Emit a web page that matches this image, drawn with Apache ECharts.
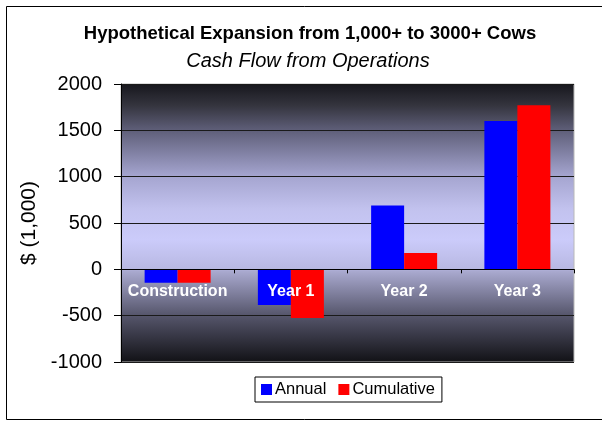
<!DOCTYPE html>
<html>
<head>
<meta charset="utf-8">
<script src="https://cdn.jsdelivr.net/npm/echarts@6/dist/echarts.min.js"></script>
<style>html,body{margin:0;padding:0;background:#fff}#c{width:602px;height:422px}</style>
</head>
<body>
<div id="c"></div>
<script>
const categories = ['Construction', 'Year 1', 'Year 2', 'Year 3'];
const annual = [-145, -385, 690, 1600];
const cumulative = [-145, -525, 175, 1770];
const yTicks = { min: -1000, max: 2000, interval: 500 };
const titleText = 'Hypothetical Expansion from 1,000+ to 3000+ Cows';
const subtitleText = 'Cash Flow from Operations';
const yName = '$ (1,000)';

const chart = echarts.init(document.getElementById('c'), null, { renderer: 'canvas' });
const font = 'Arial, "Liberation Sans", sans-serif';
const gridTop = 84, gridBottom = 60, H = 422;
const plotH = H - gridTop - gridBottom;
const zeroOffset = -plotH * (0 - yTicks.min) / (yTicks.max - yTicks.min);
chart.setOption({
  animation: false,
  textStyle: { fontFamily: font },
  graphic: [{
    type: 'rect', z: -10, silent: true,
    shape: { x: 6.5, y: 6.5, width: 620, height: 413 },
    style: { fill: '#fff', stroke: '#000', lineWidth: 1 }
  }],
  title: [
    { text: titleText, left: 305, top: 19, textAlign: 'center',
      textStyle: { fontFamily: font, fontSize: 18.5, fontWeight: 'bold', color: '#000' } },
    { text: subtitleText, left: 303, top: 46, textAlign: 'center',
      textStyle: { fontFamily: font, fontSize: 20, fontStyle: 'italic', fontWeight: 'normal', color: '#000' } }
  ],
  legend: {
    data: ['Annual', 'Cumulative'],
    left: 255, top: 377,
    icon: 'rect', itemWidth: 11, itemHeight: 11, itemGap: 12,
    borderColor: '#000', borderWidth: 1, padding: [4, 7, 4, 6],
    textStyle: { fontFamily: font, fontSize: 16.5, color: '#000', padding: [0, 0, 0, -2] }
  },
  grid: {
    left: 121, top: gridTop, right: 28, bottom: gridBottom,
    show: true,
    borderColor: '#b8b8b8', borderWidth: 1,
    backgroundColor: new echarts.graphic.LinearGradient(0, 0, 0, 1, [
      { offset: 0, color: '#16161c' },
      { offset: 0.08, color: '#35353f' },
      { offset: 0.166, color: '#5e5e78' },
      { offset: 0.33, color: '#a4a4cf' },
      { offset: 0.45, color: '#c2c2ee' },
      { offset: 0.56, color: '#cbcbfa' },
      { offset: 0.664, color: '#b8b8e2' },
      { offset: 0.672, color: '#aaaad0' },
      { offset: 0.83, color: '#56566c' },
      { offset: 1, color: '#111115' }
    ])
  },
  xAxis: {
    type: 'category', data: categories, z: 10,
    position: 'bottom', offset: zeroOffset,
    axisLine: { show: true, onZero: false, lineStyle: { color: '#000', width: 1 } },
    axisTick: { show: true, inside: false, length: 4, interval: 0, lineStyle: { color: '#000' } },
    axisLabel: { show: true, interval: 0, color: '#ffffff', fontWeight: 'bold', fontSize: 16, margin: 14, fontFamily: font }
  },
  yAxis: {
    type: 'value', min: yTicks.min, max: yTicks.max, interval: yTicks.interval,
    name: yName, nameLocation: 'middle', nameGap: 70,
    nameTextStyle: { fontSize: 21, color: '#000', fontFamily: font },
    axisLine: { show: true, lineStyle: { color: '#000' } },
    axisTick: { show: true, length: 7, lineStyle: { color: '#000' } },
    axisLabel: { fontSize: 20, color: '#000', margin: 19, fontFamily: font,
      formatter: function (v) { return String(v); } },
    splitLine: { show: true, lineStyle: { color: '#1a1a1a', width: 1 } }
  },
  series: [
    { name: 'Annual', type: 'bar', data: annual, barWidth: 33, barGap: '0%',
      itemStyle: { color: '#0000ff' } },
    { name: 'Cumulative', type: 'bar', data: cumulative, barWidth: 33, barGap: '0%',
      itemStyle: { color: '#ff0000' } }
  ]
});
</script>
</body>
</html>
